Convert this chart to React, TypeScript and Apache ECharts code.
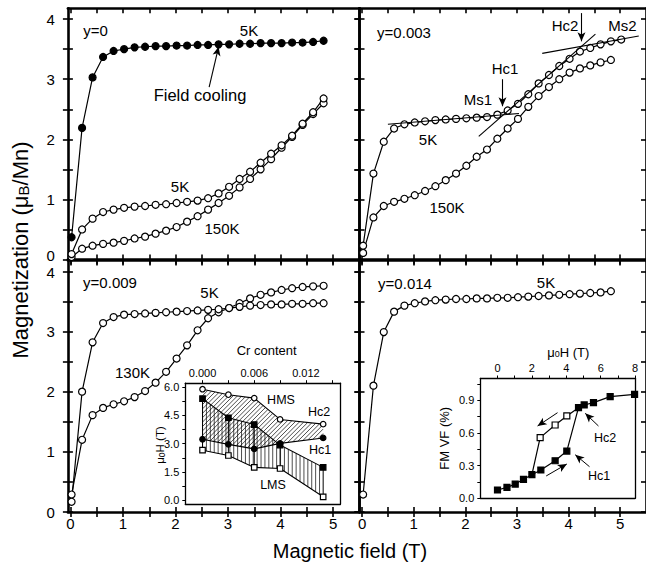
import React, { useEffect, useRef } from "react";
import * as echarts from "echarts";

const FONT = "'Liberation Sans', Arial, Helvetica, sans-serif";
const BLACK = "#000";

// ---------- Data ----------
const fieldSteps = [0.02, 0.22, 0.42, 0.62, 0.82, 1.02, 1.22, 1.42, 1.62, 1.82, 2.02, 2.22, 2.42, 2.62, 2.82, 3.02, 3.22, 3.42, 3.62, 3.82, 4.02, 4.22, 4.42, 4.62, 4.82];
const fieldSteps26 = [0.02, 0.22, 0.42, 0.62, 0.82, 1.02, 1.22, 1.42, 1.62, 1.82, 2.02, 2.22, 2.42, 2.62, 2.82, 3.02, 3.22, 3.42, 3.62, 3.82, 4.02, 4.22, 4.42, 4.62, 4.82, 5.02];

// y = 0
const y0FieldCooling5K = [0.37, 2.19, 3.03, 3.37, 3.47, 3.5, 3.53, 3.54, 3.55, 3.55, 3.56, 3.56, 3.57, 3.57, 3.58, 3.58, 3.59, 3.59, 3.6, 3.6, 3.6, 3.61, 3.61, 3.62, 3.64];
const y0Zfc5K = [0.09, 0.5, 0.68, 0.79, 0.83, 0.86, 0.88, 0.89, 0.91, 0.92, 0.94, 0.96, 0.98, 1.02, 1.1, 1.21, 1.34, 1.46, 1.61, 1.76, 1.9, 2.06, 2.26, 2.45, 2.68];
const y0Zfc150K = [0.04, 0.18, 0.23, 0.26, 0.28, 0.31, 0.35, 0.38, 0.43, 0.48, 0.54, 0.63, 0.72, 0.83, 0.94, 1.06, 1.2, 1.34, 1.5, 1.67, 1.86, 2.04, 2.24, 2.42, 2.6];

// y = 0.003
const y003_5K = [0.23, 1.43, 1.96, 2.18, 2.25, 2.28, 2.3, 2.32, 2.33, 2.34, 2.35, 2.36, 2.37, 2.41, 2.48, 2.59, 2.75, 2.93, 3.07, 3.22, 3.34, 3.46, 3.52, 3.58, 3.63, 3.66];
const y003_150K = [0.11, 0.7, 0.89, 0.96, 1.01, 1.07, 1.14, 1.22, 1.32, 1.43, 1.56, 1.71, 1.83, 2.01, 2.18, 2.34, 2.54, 2.72, 2.87, 3.0, 3.11, 3.18, 3.23, 3.28, 3.32];

// y = 0.009
const y009_5K = [0.17, 2.0, 2.82, 3.14, 3.24, 3.28, 3.29, 3.3, 3.31, 3.32, 3.33, 3.34, 3.35, 3.36, 3.37, 3.39, 3.41, 3.43, 3.44, 3.45, 3.45, 3.46, 3.46, 3.47, 3.47];
const y009_130K = [0.29, 1.2, 1.61, 1.73, 1.79, 1.84, 1.91, 2.01, 2.15, 2.33, 2.55, 2.77, 3.02, 3.22, 3.32, 3.39, 3.47, 3.55, 3.61, 3.65, 3.69, 3.72, 3.74, 3.75, 3.76];

// y = 0.014
const y014_5K = [0.29, 2.1, 2.99, 3.33, 3.43, 3.47, 3.5, 3.52, 3.53, 3.54, 3.54, 3.55, 3.55, 3.56, 3.56, 3.57, 3.58, 3.59, 3.6, 3.61, 3.62, 3.63, 3.64, 3.65, 3.67];

// Tangent lines / arrows (panel y=0.003), data coordinates
const ms1Line = [[0.5, 2.25], [3.04, 2.43]];
const slopeLine = [[2.26, 2.05], [4.52, 3.75]];
const ms2Line = [[3.49, 3.43], [5.36, 3.72]];
const hc1Arrow = [[2.72, 3.0], [2.72, 2.55]];
const hc2Arrow = [[4.25, 4.1], [4.25, 3.63]];
const fieldCoolingArrow = [[2.64, 2.87], [2.82, 3.54]];

// Inset 1: phase diagram vs Cr content
const crContent = [0, 0.003, 0.006, 0.009, 0.014];
const hmsField = [5.88, 5.59, 5.41, 4.28, 4.03];
const hc2Field = [5.38, 4.37, 4.01, 2.92, 1.74];
const hc1Field = [3.23, 2.96, 2.72, 3.01, 3.3];
const lmsField = [2.65, 2.37, 1.74, 1.68, 0.18];

// Inset 2: FM volume fraction vs field
const vfUpField = [0, 0.55, 1.03, 1.51, 2.0, 2.52, 3.35, 4.03, 4.71, 5.04, 5.58, 6.55, 7.97];
const vfUp = [0.076, 0.1, 0.131, 0.174, 0.217, 0.26, 0.345, 0.434, 0.832, 0.857, 0.878, 0.933, 0.955];
const vfDownField = [4.71, 4.03, 3.35, 2.48, 2.0];
const vfDown = [0.832, 0.756, 0.673, 0.557, 0.217];
const vfArrows = [
  [[5.87, 0.664], [5.1, 0.78]],
  [[5.35, 0.29], [4.52, 0.4]],
  [[3.49, 0.786], [2.33, 0.664]],
  [[2.83, 0.205], [4.03, 0.315]],
];

// Ticks and labels
const mainXTicks = [0, 0.5, 1, 1.5, 2, 2.5, 3, 3.5, 4, 4.5, 5];
const mainXLabels = [0, 1, 2, 3, 4, 5];
const mainYTicks = [0, 0.5, 1, 1.5, 2, 2.5, 3, 3.5, 4];
const mainYLabels = [0, 1, 2, 3, 4];
const crTicks = [0, 0.003, 0.006, 0.009, 0.012, 0.015];
const crLabels = [0, 0.006, 0.012];
const muHTicks = [0, 0.75, 1.5, 2.25, 3, 3.75, 4.5, 5.25, 6];
const muHLabels = [0, 1.5, 3, 4.5, 6];
const vfXTicks = [0, 1, 2, 3, 4, 5, 6, 7, 8];
const vfXLabels = [0, 2, 4, 6, 8];
const vfYTicks = [0, 0.15, 0.3, 0.45, 0.6, 0.75, 0.9, 1.05];
const vfYLabels = [0, 0.3, 0.6, 0.9];

// ---------- helpers ----------
function mainAxisSet(gridIndex: number, isX: boolean, showLabels: boolean, isTopRow: boolean) {
  const range = isX ? { min: -0.05, max: 5.5 } : { min: 0, max: 4.18 };
  const ticks = isX ? mainXTicks : mainYTicks;
  const labels = isX ? mainXLabels : mainYLabels;
  const common: any = { type: "value", gridIndex, ...range, splitLine: { show: false } };
  const line = { show: true, onZero: false, lineStyle: { color: BLACK, width: 2.6 } };
  const tickStyle = { color: BLACK, width: 1.6 };
  const labelCfg: any = {
    show: showLabels,
    customValues: labels,
    fontSize: 15,
    color: BLACK,
    fontFamily: FONT,
    margin: isX ? 4 : 13,
  };
  if (!isX) {
    // the shared corner labels "0" (upper panel) and "4" (lower panel) are nudged apart
    labelCfg.formatter = (v: any) => {
      const n = Number(v);
      if (isTopRow && n === 0) return "{lo|0}";
      if (!isTopRow && n === 4) return "{hi|4}";
      return String(n);
    };
    labelCfg.rich = {
      lo: { fontSize: 15, fontFamily: FONT, color: BLACK, padding: [0, 0, 9, 0] },
      hi: { fontSize: 15, fontFamily: FONT, color: BLACK, padding: [3, 0, 0, 0] },
    };
  }
  return [
    {
      ...common,
      position: isX ? "bottom" : "left",
      axisLine: line,
      axisTick: { show: true, inside: false, length: 5, customValues: ticks, lineStyle: tickStyle },
      axisLabel: labelCfg,
    },
    {
      ...common,
      position: isX ? "bottom" : "left",
      axisLine: { show: false, onZero: false },
      axisTick: { show: true, inside: true, length: 5, customValues: ticks, lineStyle: tickStyle },
      axisLabel: { show: false },
    },
    {
      ...common,
      position: isX ? "top" : "right",
      axisLine: line,
      axisTick: { show: true, inside: true, length: 5, customValues: ticks, lineStyle: tickStyle },
      axisLabel: { show: false },
    },
  ];
}

function insetAxisSet(
  gridIndex: number,
  isX: boolean,
  min: number,
  max: number,
  ticks: number[],
  labels: number[],
  digits: number
) {
  const common: any = { type: "value", gridIndex, min, max, splitLine: { show: false } };
  const line = { show: true, onZero: false, lineStyle: { color: BLACK, width: 1.3 } };
  return [
    {
      ...common,
      position: isX ? "top" : "left",
      axisLine: line,
      axisTick: { show: true, inside: false, length: 3, customValues: ticks, lineStyle: { color: BLACK, width: 1 } },
      axisLabel: {
        show: true,
        customValues: labels,
        formatter: (v: any) => Number(v).toFixed(digits),
        fontSize: 11,
        color: BLACK,
        fontFamily: FONT,
        margin: isX ? 5 : 6,
      },
    },
    {
      ...common,
      position: isX ? "bottom" : "right",
      axisLine: line,
      axisTick: { show: false },
      axisLabel: { show: false },
    },
  ];
}

function curve(
  axis: number,
  xs: number[],
  ys: number[],
  filled: boolean,
  extra: any = {},
  symbol = "circle",
  size = 7
) {
  return {
    type: "line",
    xAxisIndex: axis,
    yAxisIndex: axis,
    data: ys.map((y, i) => [xs[i], y]),
    symbol,
    symbolSize: size,
    showAllSymbol: true,
    lineStyle: { color: BLACK, width: 1.2 },
    itemStyle: { color: filled ? BLACK : "#fff", borderColor: BLACK, borderWidth: 1.2 },
    emphasis: { disabled: true },
    silent: true,
    z: 3,
    ...extra,
  };
}

function markLines(plain: number[][][], arrows: number[][][], width = 1.1) {
  const data: any[] = [];
  plain.forEach(([a, b]) => data.push([{ coord: a, symbol: "none" }, { coord: b, symbol: "none" }]));
  arrows.forEach(([a, b]) => data.push([{ coord: a, symbol: "none" }, { coord: b, symbol: "arrow" }]));
  return {
    silent: true,
    symbolSize: [6, 9],
    animation: false,
    lineStyle: { color: BLACK, width, type: "solid" },
    label: { show: false },
    emphasis: { disabled: true },
    data,
  };
}

function txt(text: string, x: number, y: number, size: number, extra: any = {}) {
  return {
    type: "text",
    x,
    y,
    rotation: extra.rotation || 0,
    silent: true,
    z: 10,
    style: {
      text,
      fontSize: size,
      fontFamily: FONT,
      fill: BLACK,
      textAlign: "center",
      textVerticalAlign: "middle",
      align: "center",
      verticalAlign: "middle",
      rich: extra.rich,
    },
  };
}

function hatchRenderItem(params: any, api: any) {
  if (params.dataIndex !== 0) return null;
  const toPx = (xs: number[], ys: number[]) => xs.map((x, i) => api.coord([x, ys[i]]));
  const interp = (poly: number[][], x: number) => {
    for (let i = 0; i < poly.length - 1; i++) {
      const [x0, y0] = poly[i];
      const [x1, y1] = poly[i + 1];
      if (x >= x0 - 1e-6 && x <= x1 + 1e-6) return y0 + ((y1 - y0) * (x - x0)) / (x1 - x0);
    }
    return NaN;
  };
  const children: any[] = [];
  const style = { stroke: BLACK, lineWidth: 0.7, fill: null };
  // vertical hatching between Hc2 and LMS
  const up = toPx(crContent, hc2Field);
  const lo = toPx(crContent, lmsField);
  const xa = up[0][0];
  const xb = up[up.length - 1][0];
  for (let x = xa; x <= xb + 0.01; x += 3.9) {
    children.push({ type: "line", shape: { x1: x, y1: interp(up, x), x2: x, y2: interp(lo, x) }, style });
  }
  up.forEach((p: number[], i: number) => {
    children.push({ type: "line", shape: { x1: p[0], y1: p[1], x2: lo[i][0], y2: lo[i][1] }, style: { ...style, lineWidth: 1 } });
  });
  // diagonal hatching between HMS and Hc1
  const u2 = toPx(crContent, hmsField);
  const l2 = toPx(crContent, hc1Field);
  const a = u2[0][0];
  const b = u2[u2.length - 1][0];
  let cmin = Infinity;
  let cmax = -Infinity;
  [...u2, ...l2].forEach((p: number[]) => {
    cmin = Math.min(cmin, p[0] + p[1]);
    cmax = Math.max(cmax, p[0] + p[1]);
  });
  const step = 0.25;
  for (let c = cmin + 2; c <= cmax; c += 4.4) {
    let start: number | null = null;
    let last = a;
    for (let x = a; x <= b + 1e-6; x += step) {
      const y = c - x;
      const inside = y >= interp(u2, x) && y <= interp(l2, x);
      if (inside) {
        if (start === null) start = x;
        last = x;
      }
      if ((!inside || x + step > b + 1e-6) && start !== null) {
        if (last > start) {
          children.push({ type: "line", shape: { x1: start, y1: c - start, x2: last, y2: c - last }, style });
        }
        start = null;
      }
    }
  }
  return { type: "group", children };
}

export default function App() {
  const ref = useRef<HTMLDivElement>(null);
  useEffect(() => {
    document.body.style.margin = "0";
    if (!ref.current) return;
    const chart = echarts.init(ref.current, undefined, { renderer: "svg" });

    const grids = [
      { left: 67.9, top: 8.3, width: 291.4, height: 251.2 },
      { left: 359.5, top: 8.3, width: 291.4, height: 251.2 },
      { left: 67.9, top: 260.5, width: 291.4, height: 251.5 },
      { left: 359.5, top: 260.5, width: 291.4, height: 251.5 },
      { left: 185.3, top: 383.2, width: 155.1, height: 120.8 },
      { left: 480.3, top: 378.5, width: 154.8, height: 119.8 },
    ].map((g) => ({ ...g, containLabel: false, show: false }));

    const xAxis: any[] = [];
    const yAxis: any[] = [];
    for (let g = 0; g < 4; g++) {
      xAxis.push(...mainAxisSet(g, true, g >= 2, g < 2));
      yAxis.push(...mainAxisSet(g, false, g % 2 === 0, g < 2));
    }
    // inset 1 axes -> index 12, inset 2 axes -> index 14
    xAxis.push(...insetAxisSet(4, true, -0.002, 0.016, crTicks, crLabels, 3));
    yAxis.push(...insetAxisSet(4, false, -0.2, 6.2, muHTicks, muHLabels, 1));
    xAxis.push(...insetAxisSet(5, true, -1, 8, vfXTicks, vfXLabels, 0));
    yAxis.push(...insetAxisSet(5, false, 0, 1.1, vfYTicks, vfYLabels, 1));

    const P1 = 0, P2 = 3, P3 = 6, P4 = 9, I1 = 12, I2 = 14;

    const series: any[] = [
      // panel y=0
      curve(P1, fieldSteps, y0Zfc150K, false),
      curve(P1, fieldSteps, y0Zfc5K, false),
      curve(P1, fieldSteps, y0FieldCooling5K, true, { markLine: markLines([], [fieldCoolingArrow]) }),
      // panel y=0.003
      curve(P2, fieldSteps, y003_150K, false),
      curve(P2, fieldSteps26, y003_5K, false, {
        markLine: markLines([ms1Line, slopeLine, ms2Line], [hc1Arrow, hc2Arrow]),
      }),
      // panel y=0.009
      curve(P3, fieldSteps, y009_130K, false),
      curve(P3, fieldSteps, y009_5K, false),
      // panel y=0.014
      curve(P4, fieldSteps, y014_5K, false),
      // inset 1 hatching
      {
        type: "custom",
        xAxisIndex: I1,
        yAxisIndex: I1,
        coordinateSystem: "cartesian2d",
        data: [[0, 0]],
        silent: true,
        clip: false,
        z: 1,
        renderItem: hatchRenderItem,
      },
      curve(I1, crContent, hmsField, false, { lineStyle: { color: BLACK, width: 1.1 }, z: 4 }, "circle", 5.5),
      curve(I1, crContent, hc2Field, true, { lineStyle: { color: BLACK, width: 1.1 }, z: 4 }, "rect", 5.5),
      curve(I1, crContent, hc1Field, true, { lineStyle: { color: BLACK, width: 1.1 }, z: 4 }, "circle", 5.5),
      curve(I1, crContent, lmsField, false, { lineStyle: { color: BLACK, width: 1.1 }, z: 4 }, "rect", 5.5),
      // inset 2
      {
        ...curve(I2, vfDownField, vfDown, false, { lineStyle: { color: BLACK, width: 1.2 } }, "rect", 6),
        data: vfDown.map((y, i) =>
          i === 0 || i === vfDown.length - 1
            ? { value: [vfDownField[i], y], symbol: "none" }
            : { value: [vfDownField[i], y] }
        ),
      },
      curve(I2, vfUpField, vfUp, true, { z: 4, markLine: markLines([], vfArrows, 1) }, "rect", 6),
    ];

    const sub = (size: number) => ({
      s: { fontSize: size, fontFamily: FONT, verticalAlign: "bottom", lineHeight: size, fill: BLACK },
    });

    const graphic: any[] = [
      txt("Magnetization (μ{s|B}/Mn)", 20, 250, 22, { rotation: Math.PI / 2, rich: sub(15) }),
      txt("Magnetic field (T)", 350, 551, 20),
      // panel y=0
      txt("y=0", 95.5, 30, 15),
      txt("5K", 249, 30, 15),
      txt("Field cooling", 200, 95, 16.5),
      txt("5K", 180, 186, 15),
      txt("150K", 222, 228, 15),
      // panel y=0.003
      txt("y=0.003", 404, 32, 15),
      txt("Hc1", 505, 68, 15),
      txt("Ms1", 478, 99, 15),
      txt("Hc2", 565, 25, 15),
      txt("Ms2", 622.5, 25, 15),
      txt("5K", 428, 139, 15),
      txt("150K", 447, 207, 15),
      // panel y=0.009
      txt("y=0.009", 110, 282, 15),
      txt("5K", 209.5, 292, 15),
      txt("130K", 132.5, 372, 15),
      // panel y=0.014
      txt("y=0.014", 405, 283, 15),
      txt("5K", 546, 282, 15),
      // inset 1
      txt("Cr content", 266.7, 350, 13),
      txt("μ{s|0}H (T)", 160, 445, 11.5, { rotation: Math.PI / 2, rich: sub(8.5) }),
      txt("HMS", 281, 400, 12.5),
      txt("Hc2", 319, 411.7, 12.5),
      txt("Hc1", 320, 450, 12.5),
      txt("LMS", 273, 485, 12.5),
      // inset 2
      txt("μ{s|0}H (T)", 568.3, 352, 13, { rich: sub(9) }),
      txt("FM VF (%)", 444.5, 438.3, 13, { rotation: Math.PI / 2 }),
      txt("Hc2", 605, 438.3, 12.5),
      txt("Hc1", 599, 476, 12.5),
    ];

    chart.setOption({
      animation: false,
      backgroundColor: "#fff",
      textStyle: { fontFamily: FONT },
      grid: grids,
      xAxis,
      yAxis,
      series,
      graphic: { elements: graphic },
    });

    return () => chart.dispose();
  }, []);

  return (
    <div
      ref={ref}
      style={{ position: "absolute", left: 0, top: 0, width: 646, height: 572, background: "#fff" }}
    />
  );
}
